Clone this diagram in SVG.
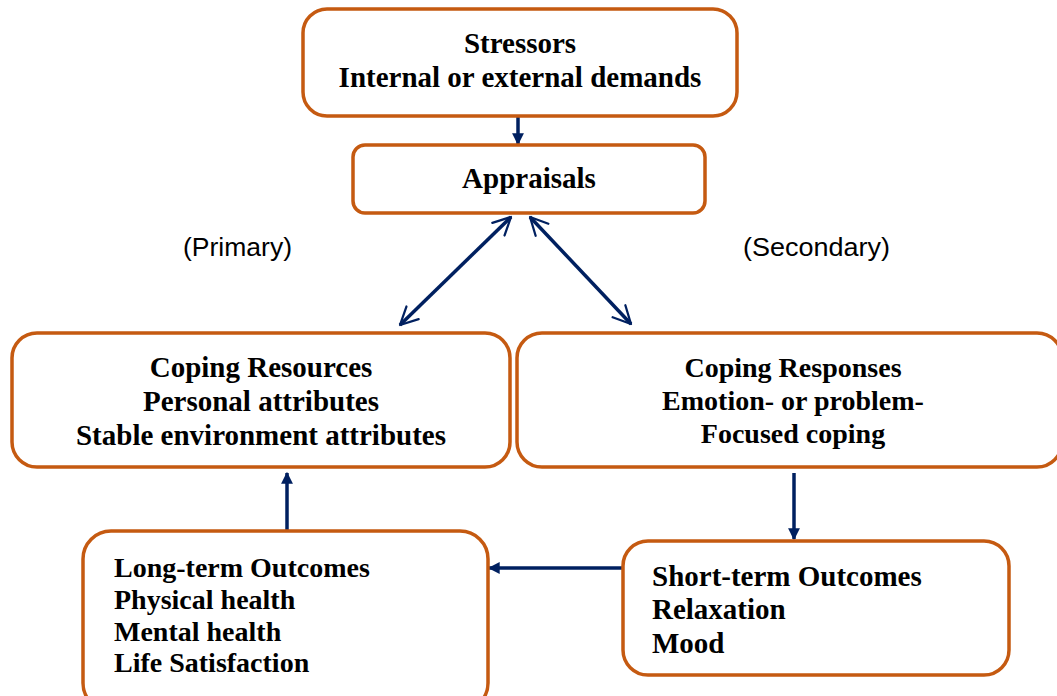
<svg xmlns="http://www.w3.org/2000/svg" width="1057" height="696" viewBox="0 0 1057 696">
<style>
.box{fill:#fff;stroke:#C55A11;stroke-width:3.5}
.t{font-family:"Liberation Serif","Times New Roman",serif;font-weight:bold;font-size:29px;fill:#000}
.s{font-size:28px}
.c{text-anchor:middle}
.lab{font-family:"Liberation Sans",Arial,sans-serif;font-size:25px;fill:#000}
.ln{stroke:#002060;stroke-width:3.5;fill:none}
</style>
<defs>
<marker id="tri" viewBox="0 0 10 10" refX="9" refY="5" markerWidth="3.4" markerHeight="3.4" orient="auto" markerUnits="strokeWidth">
<path d="M0,0 L10,5 L0,10 z" fill="#002060"/>
</marker>
<marker id="open" viewBox="0 0 12 12" refX="11" refY="6" markerWidth="6" markerHeight="6" orient="auto-start-reverse" markerUnits="strokeWidth">
<path d="M1,1 L11,6 L1,11" fill="none" stroke="#002060" stroke-width="1.3" stroke-linecap="round" stroke-linejoin="round"/>
</marker>
</defs>
<rect width="1057" height="696" fill="#fff"/>
<g id="connectors">
<line class="ln" x1="518" y1="116" x2="518" y2="144" marker-end="url(#tri)"/>
<line class="ln" x1="511" y1="217" x2="400" y2="325" marker-start="url(#open)" marker-end="url(#open)"/>
<line class="ln" x1="530" y1="217" x2="631" y2="324" marker-start="url(#open)" marker-end="url(#open)"/>
<line class="ln" x1="794" y1="473" x2="794" y2="539" marker-end="url(#tri)"/>
<line class="ln" x1="623" y1="568" x2="489" y2="568" marker-end="url(#tri)"/>
<line class="ln" x1="287" y1="531" x2="287" y2="473" marker-end="url(#tri)"/>
</g>
<g id="stressors">
<rect class="box" x="303" y="9" width="434" height="107" rx="24"/>
<text class="t c" x="520" y="53">Stressors</text>
<text class="t c" x="520" y="87">Internal or external demands</text>
</g>
<g id="appraisals">
<rect class="box" x="353" y="145" width="352" height="68" rx="12"/>
<text class="t c" x="529" y="188">Appraisals</text>
</g>
<g id="primary-label">
<text class="lab" x="183" y="256" textLength="109" lengthAdjust="spacingAndGlyphs">(Primary)</text>
</g>
<g id="secondary-label">
<text class="lab" x="743" y="256" textLength="147" lengthAdjust="spacingAndGlyphs">(Secondary)</text>
</g>
<g id="coping-resources">
<rect class="box" x="12" y="333" width="498" height="134" rx="25"/>
<text class="t c" x="261" y="377">Coping Resources</text>
<text class="t c" x="261" y="411">Personal attributes</text>
<text class="t c" x="261" y="445">Stable environment attributes</text>
</g>
<g id="coping-responses">
<rect class="box" x="517" y="333" width="545" height="134" rx="25"/>
<text class="t s c" x="793" y="377">Coping Responses</text>
<text class="t s c" x="793" y="410">Emotion- or problem-</text>
<text class="t s c" x="793" y="443">Focused coping</text>
</g>
<g id="long-term">
<rect class="box" x="83" y="531" width="405" height="180" rx="28"/>
<text class="t s" x="114" y="577">Long-term Outcomes</text>
<text class="t s" x="114" y="609">Physical health</text>
<text class="t s" x="114" y="641">Mental health</text>
<text class="t s" x="114" y="672">Life Satisfaction</text>
</g>
<g id="short-term">
<rect class="box" x="623" y="541" width="386" height="134" rx="25"/>
<text class="t" x="652" y="586">Short-term Outcomes</text>
<text class="t" x="652" y="619">Relaxation</text>
<text class="t" x="652" y="653">Mood</text>
</g>
</svg>
